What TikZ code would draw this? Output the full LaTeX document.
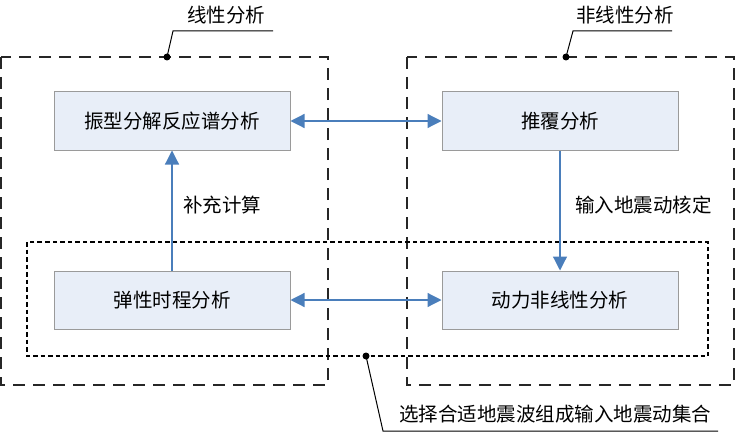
\documentclass[tikz,border=0pt]{standalone}
\usepackage{fontspec}
\setmainfont{Noto Sans CJK SC}
\usetikzlibrary{arrows.meta}
\definecolor{boxfill}{HTML}{E8EEF8}
\definecolor{boxline}{HTML}{9A9A9A}
\definecolor{arrowc}{HTML}{4A7EBB}
\definecolor{frame}{HTML}{262626}
\begin{document}
\begin{tikzpicture}[x=1pt,y=-1pt,
  procbox/.style={draw=boxline,line width=1pt,fill=boxfill,minimum width=236pt,minimum height=58pt,font=\fontsize{19.5}{22}\selectfont,inner sep=0pt},
  bigframe/.style={draw=frame,line width=1.8pt,dash pattern=on 12pt off 8pt},
  smallframe/.style={draw=black,line width=1.2pt,dash pattern=on 4.5pt off 3pt},
  flow/.style={draw=arrowc,line width=1.2pt,-{Triangle[length=14pt,width=14pt]}},
  biflow/.style={draw=arrowc,line width=1.2pt,{Triangle[length=14pt,width=14pt]}-{Triangle[length=14pt,width=14pt]}},
  callout/.style={draw=black,line width=1pt},
  dotc/.style={circle,fill=black,inner sep=0pt,minimum size=7pt},
  lbl/.style={font=\fontsize{19.5}{22}\selectfont,inner sep=0pt}]
\useasboundingbox (0,0) rectangle (735,433);
% frames
\draw[bigframe] (1,57) rectangle (328,385);
\draw[bigframe] (407,57) rectangle (734,385);
\draw[smallframe] (27,242) rectangle (708,356);
% boxes
\node[procbox] (zx) at (172,121) {振型分解反应谱分析};
\node[procbox] (tf) at (560,121) {推覆分析};
\node[procbox] (tx) at (172,300) {弹性时程分析};
\node[procbox] (dl) at (560,300) {动力非线性分析};
% arrows
\draw[biflow] (zx) -- (tf);
\draw[biflow] (tx) -- (dl);
\draw[flow] (tx) -- (zx);
\draw[flow] (tf) -- (dl);
\node[lbl,anchor=west] (bc) at (183,205) {补充计算};
\node[lbl,anchor=west] (sr) at (575,205) {输入地震动核定};
% callouts
\node[dotc] (d1) at (167,57) {};
\coordinate (k1) at (173,31);
\coordinate (e1) at (273,31);
\draw[callout] (d1.center) -- (k1) -- (e1);
\node[lbl] (t1) at (226,15) {线性分析};
\node[dotc] (d2) at (566,57) {};
\coordinate (k2) at (573,31);
\coordinate (e2) at (672,31);
\draw[callout] (d2.center) -- (k2) -- (e2);
\node[lbl] (t2) at (625,15) {非线性分析};
\node[dotc] (d3) at (366,356) {};
\coordinate (k3) at (383,431);
\coordinate (e3) at (718,431);
\draw[callout] (d3.center) -- (k3) -- (e3);
\node[lbl] (t3) at (555,414) {选择合适地震波组成输入地震动集合};
\end{tikzpicture}
\end{document}
